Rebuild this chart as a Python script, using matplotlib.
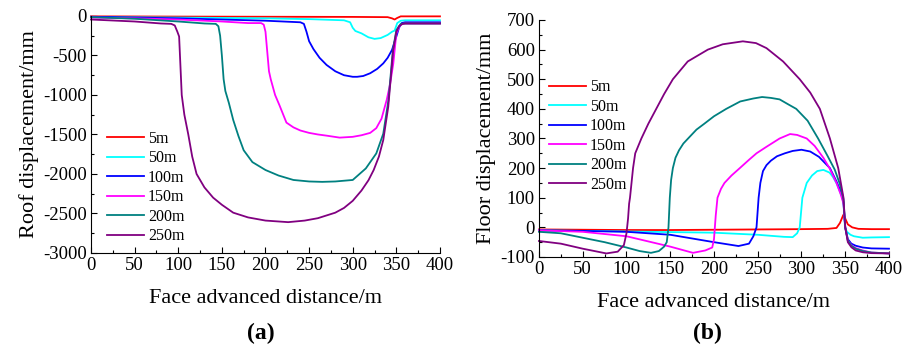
import matplotlib
matplotlib.use("Agg")
import matplotlib.pyplot as plt
from matplotlib.ticker import MultipleLocator, AutoMinorLocator

plt.rcParams['font.family'] = ['Liberation Serif', 'DejaVu Serif']
plt.rcParams['axes.unicode_minus'] = False

labels = ['5m', '50m', '100m', '150m', '200m', '250m']
colors = ['#ff0000', '#00ffff', '#0000ff', '#ff00ff', '#008080', '#800080']

# (a) roof displacement, mm
roof_x_5 = [0, 100, 200, 300, 340, 345, 348, 351, 355, 400]
roof_y_5 = [-5, -8, -10, -12, -15, -30, -45, -25, -5, -5]

roof_x_50 = [0, 100, 200, 250, 290, 297, 300, 303, 310, 318, 325, 332, 340, 345, 348, 351, 355, 360, 400]
roof_y_50 = [-15, -20, -30, -40, -55, -80, -150, -190, -220, -270, -290, -280, -240, -200, -185, -90, -60, -55, -55]

roof_x_100 = [0, 50, 100, 150, 200, 240, 244, 247, 250, 255, 262, 270, 280, 290, 300, 305, 312, 320, 328,
              335, 340, 345, 350, 353, 356, 360, 400]
roof_y_100 = [-10, -20, -30, -45, -60, -80, -100, -200, -320, -420, -530, -620, -700, -750, -770, -770, -760,
              -725, -670, -600, -530, -430, -260, -150, -90, -80, -80]

roof_x_150 = [0, 50, 100, 150, 180, 195, 198, 200, 202, 204, 206, 211, 216, 224, 232, 240, 250, 260, 270,
              285, 300, 310, 320, 327, 333, 339, 343, 346.5, 350, 354, 357, 360, 400]
roof_y_150 = [-20, -30, -45, -70, -90, -90, -110, -200, -450, -700, -800, -1000, -1130, -1350, -1410, -1450,
              -1480, -1500, -1515, -1540, -1530, -1510, -1480, -1420, -1300, -1060, -850, -600, -220, -120,
              -100, -95, -95]

roof_x_200 = [0, 50, 100, 130, 143, 146, 148, 150, 152, 154, 158, 163, 169, 175, 185, 200, 215, 232, 250,
              265, 280, 300, 315, 327, 335, 341, 346, 350, 355, 360, 400]
roof_y_200 = [-15, -35, -70, -95, -100, -130, -250, -500, -800, -950, -1100, -1316, -1520, -1700, -1850,
              -1950, -2020, -2076, -2095, -2100, -2095, -2076, -1930, -1740, -1490, -1060, -430, -180, -100,
              -95, -95]

roof_x_250 = [0, 50, 80, 92, 96, 99, 101, 104, 107, 111.5, 116, 121, 130, 140, 150, 163, 180, 200, 226,
              245, 260, 280, 290, 300, 310, 318, 324, 330, 335, 340.7, 346.4, 350, 353, 357, 360, 400]
roof_y_250 = [-45, -70, -95, -100, -120, -200, -260, -1000, -1250, -1500, -1780, -2000, -2170, -2300,
              -2390, -2490, -2550, -2590, -2610, -2590, -2560, -2490, -2430, -2340, -2210, -2080, -1950,
              -1780, -1570, -1150, -430, -200, -130, -100, -95, -95]

# (b) floor displacement, mm
floor_x_5 = [0, 50, 100, 150, 200, 250, 300, 330, 340, 344, 347.8, 350, 353, 358, 365, 380, 400]
floor_y_5 = [-7, -8, -9, -9, -8, -7, -6, -5, -2, 15, 42, 30, 10, 0, -5, -6, -6]

floor_x_50 = [0, 50, 100, 150, 200, 250, 280, 290, 295, 298, 301, 306, 312, 318, 325, 332, 336, 340,
              344, 347.8, 349.7, 352, 356, 360, 370, 380, 400]
floor_y_50 = [-10, -12, -14, -16, -18, -25, -32, -33, -20, 0, 100, 150, 175, 190, 194, 185, 170, 149,
              120, 92, 0, -15, -25, -30, -35, -34, -33]

floor_x_100 = [0, 50, 100, 150, 200, 228, 240, 245, 248.6, 251, 253, 256, 260, 265, 272, 281, 290, 300,
               310, 320, 332.5, 340, 345, 348, 350, 353, 357, 362, 370, 380, 400]
floor_y_100 = [-10, -12, -15, -25, -50, -63, -55, -30, 0, 100, 150, 190, 210, 225, 240, 250, 258, 262,
               256, 238, 200, 155, 120, 85, 0, -40, -55, -62, -68, -71, -72]

floor_x_150 = [0, 50, 100, 150, 176, 190, 198, 200, 202, 204, 208, 212, 220, 229.5, 240, 248.6, 260, 275,
               287, 295, 306, 315, 325, 332, 340, 345, 348, 350, 353, 357, 362, 370, 380, 400]
floor_y_150 = [-10, -15, -30, -65, -86, -78, -68, -40, 40, 100, 130, 150, 175, 200, 228, 250, 272, 300,
               315, 312, 300, 275, 235, 200, 150, 110, 80, 0, -45, -60, -70, -78, -85, -88]

floor_x_200 = [0, 25, 50, 75, 100, 115, 128, 137, 143, 146, 148, 149.5, 151, 153, 156, 160, 165, 172,
               180, 189, 200, 214, 230, 245, 255, 265, 275, 285, 294, 307, 319, 330, 338, 344, 348, 350,
               353, 357, 362, 370, 380, 400]
floor_y_200 = [-15, -20, -35, -50, -68, -80, -86, -80, -65, -50, 0, 100, 160, 200, 235, 260, 283, 305,
               330, 350, 375, 400, 425, 435, 440, 437, 432, 415, 400, 360, 300, 240, 195, 145, 95, 0, -45,
               -62, -72, -80, -85, -88]

floor_x_250 = [0, 25, 50, 77, 90, 97, 100, 101.8, 103, 104, 107.5, 110, 117, 125, 134, 143, 153, 170, 193,
               210, 233, 248, 260, 279, 298, 310, 321, 332.5, 342, 348, 350, 353, 357, 362, 370, 380, 400]
floor_y_250 = [-46, -55, -72, -88, -82, -60, -20, 30, 80, 100, 200, 250, 300, 350, 400, 450, 500, 560,
               600, 618, 628, 622, 605, 560, 500, 455, 400, 300, 200, 100, 0, -50, -67, -78, -84, -87, -88]

roof = [(roof_x_5, roof_y_5), (roof_x_50, roof_y_50), (roof_x_100, roof_y_100),
        (roof_x_150, roof_y_150), (roof_x_200, roof_y_200), (roof_x_250, roof_y_250)]
floor = [(floor_x_5, floor_y_5), (floor_x_50, floor_y_50), (floor_x_100, floor_y_100),
         (floor_x_150, floor_y_150), (floor_x_200, floor_y_200), (floor_x_250, floor_y_250)]

fig = plt.figure(figsize=(9.10, 3.47), dpi=100)
ax1 = fig.add_axes([0.1, 0.271, 0.3835, 0.683])
ax2 = fig.add_axes([0.5923, 0.2594, 0.3846, 0.683])


def style(ax, ylim, ymajor, ylabel):
    ax.set_xlim(0, 400)
    ax.set_ylim(*ylim)
    ax.xaxis.set_major_locator(MultipleLocator(50))
    ax.yaxis.set_major_locator(MultipleLocator(ymajor))
    ax.xaxis.set_minor_locator(AutoMinorLocator(2))
    ax.yaxis.set_minor_locator(AutoMinorLocator(2))
    ax.spines['top'].set_visible(False)
    ax.spines['right'].set_visible(False)
    ax.tick_params(which='both', direction='in', labelsize=13.5, width=0.8)
    ax.tick_params(which='major', length=4, pad=3)
    ax.tick_params(which='minor', length=2.5)
    ax.set_xlabel('Face advanced distance/m', fontsize=16, labelpad=11)
    ax.set_ylabel(ylabel, fontsize=16, labelpad=3)


for (x, y), c, lab in zip(roof, colors, labels):
    ax1.plot(x, y, color=c, lw=1.3, label=lab, clip_on=False)
for (x, y), c, lab in zip(floor, colors, labels):
    ax2.plot(x, y, color=c, lw=1.3, label=lab, clip_on=False)

style(ax1, (-3000, 0), 500, 'Roof displacement/mm')
style(ax2, (-100, 700), 100, 'Floor displacement/mm')

leg_kw = dict(frameon=False, fontsize=11.5, labelspacing=0.22, handlelength=2.3,
              handletextpad=0.25, borderpad=0, borderaxespad=0, loc='upper left')
ax1.legend(bbox_to_anchor=(0.046, 0.515), **leg_kw)
ax2.legend(bbox_to_anchor=(0.029, 0.75), **leg_kw)

fig.text(0.287, 0.04, '(a)', fontsize=17, fontweight='bold', ha='center', va='center')
fig.text(0.777, 0.04, '(b)', fontsize=17, fontweight='bold', ha='center', va='center')

fig.savefig('out.png', dpi=100)
